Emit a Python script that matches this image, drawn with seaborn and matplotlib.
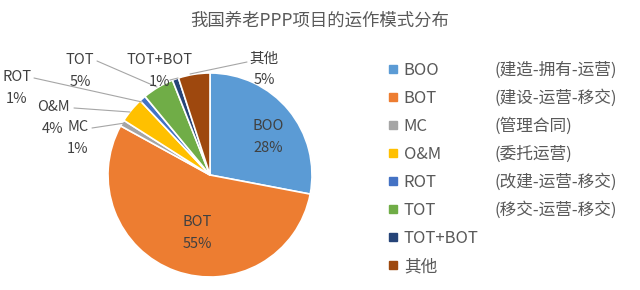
import matplotlib
matplotlib.use("Agg")
import matplotlib.pyplot as plt
from matplotlib.lines import Line2D
import seaborn as sns

title = "我国养老PPP项目的运作模式分布"
categories = ["BOO", "BOT", "MC", "O&M", "ROT", "TOT", "TOT+BOT", "其他"]
values = [28, 55, 1, 4, 1, 5, 1, 5]
descriptions = ["(建造-拥有-运营)", "(建设-运营-移交)", "(管理合同)", "(委托运营)",
                "(改建-运营-移交)", "(移交-运营-移交)", "", ""]
colors = ["#5B9BD5", "#ED7D31", "#A5A5A5", "#FFC000", "#4472C4", "#70AD47", "#264478", "#9E480E"]

sns.set_theme(style="white")
plt.rcParams["font.family"] = ["Noto Sans CJK SC", "DejaVu Sans"]

W, H = 640, 290
fig = plt.figure(figsize=(W / 100, H / 100), dpi=100)
fig.patch.set_facecolor("white")

cx, cy, R = 210, 175, 102
ax = fig.add_axes([(cx - R) / W, (H - cy - R) / H, 2 * R / W, 2 * R / H])
wedges, _ = ax.pie(values, colors=colors, startangle=90, counterclock=False,
                   wedgeprops=dict(edgecolor="white", linewidth=1.2))
ax.set_xlim(-1, 1)
ax.set_ylim(-1, 1)
ax.set_aspect("equal")
ax.axis("off")

txt_color = "#404040"
lab_fs = 10.5

def px(x, y):
    return ((x - cx) / R, (cy - y) / R)

# inside labels
for name, v, pos in [("BOO", values[0], (268, 137)), ("BOT", values[1], (197, 233))]:
    ax.text(*px(*pos), f"{name}\n{v}%", ha="center", va="center", fontsize=lab_fs,
            color=txt_color, linespacing=1.65)

# outside labels: (index, label center px, line start px, line end px)
outside = [
    (7, (264, 69), (247, 62), (190, 74)),
    (6, (160, 71), (170, 80), (178, 78)),
    (5, (80, 71), (97, 61), (157, 87)),
    (4, (17, 88), (34, 78), (142, 102)),
    (3, (53, 118), (74, 108), (130, 112)),
    (2, (78, 138), (92, 128), (125, 123)),
]
for i, c, s, e in outside:
    ax.plot([px(*s)[0], px(*e)[0]], [px(*s)[1], px(*e)[1]], color="#A6A6A6",
            lw=0.8, clip_on=False)
    ax.text(*px(*c), f"{categories[i]}\n{values[i]}%", ha="center", va="center",
            fontsize=lab_fs, color=txt_color, linespacing=1.65, clip_on=False)

fig.text(0.5, 1 - 21 / H, title, ha="center", va="center", fontsize=12.5, color="#595959")

handles = [Line2D([], [], marker="s", color=c, linestyle="none", markersize=6) for c in colors]
leg = fig.legend(handles, categories, loc="upper left",
                 bbox_to_anchor=(388 / W, 1 - 62 / H), frameon=False,
                 fontsize=12, labelcolor="#595959", handlelength=0.6,
                 handletextpad=0.35, labelspacing=0.66, borderpad=0, borderaxespad=0)

fig.canvas.draw()
renderer = fig.canvas.get_renderer()
inv = fig.transFigure.inverted()
for t, d in zip(leg.get_texts(), descriptions):
    if not d:
        continue
    bb = t.get_window_extent(renderer)
    yc = (bb.y0 + bb.y1) / 2
    fig.text(495 / W, inv.transform((0, yc))[1], d, ha="left", va="center",
             fontsize=12, color="#595959")

fig.savefig("out.png", dpi=100, facecolor="white")
